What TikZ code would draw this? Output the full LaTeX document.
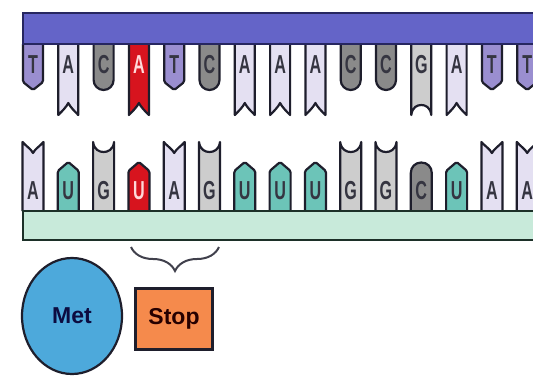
\documentclass[tikz,border=0pt]{standalone}
\usepackage{fontspec}
\setmainfont{Liberation Sans}
\usetikzlibrary{shapes.geometric,decorations.pathreplacing}

\definecolor{ink}{HTML}{1E1E2C}
\definecolor{dnabar}{HTML}{6464C8}
\definecolor{dnabarline}{HTML}{262660}
\definecolor{rnabar}{HTML}{C8EADA}
\definecolor{rnabarline}{HTML}{1C3028}
\definecolor{colT}{HTML}{9A8ED0}
\definecolor{colA}{HTML}{E4E0F2}
\definecolor{colC}{HTML}{8A8A8A}
\definecolor{colG}{HTML}{CDCDCD}
\definecolor{colU}{HTML}{6CC4B8}
\definecolor{colRed}{HTML}{D7141E}
\definecolor{metblue}{HTML}{4DA9DB}
\definecolor{stoporange}{HTML}{F58A4C}

\tikzset{
  base/.style={draw=ink, line width=2.2pt, line join=round, fill=\basecol},
  letter/.style={font=\fontsize{26}{26}\selectfont\bfseries, xscale=0.62, text=ink!90, inner sep=0pt},
  redletter/.style={letter, text=red!15!white},
  % template strand bases (hanging down from the DNA backbone)
  pics/dT/.style={code={\path[base, rounded corners=1.5pt]
      (-10,0) -- (-10,38) -- (0,46) -- (10,38) -- (10,0);}},
  pics/dC/.style={code={\path[base]
      (-10,0) -- (-10,36) .. controls (-10,41.5) and (-5.5,46) .. (0,46)
      .. controls (5.5,46) and (10,41.5) .. (10,36) -- (10,0);}},
  pics/dA/.style={code={\path[base]
      (-10,0) -- (-10,71) .. controls (-6,67) and (-2,63) .. (0,59)
      .. controls (2,63) and (6,67) .. (10,71) -- (10,0);}},
  pics/dG/.style={code={\path[base]
      (-10,0) -- (-10,71) .. controls (-9,63) and (-4,61) .. (0,61)
      .. controls (4,61) and (9,63) .. (10,71) -- (10,0);}},
  % messenger strand bases (standing up on the RNA backbone)
  pics/rA/.style={code={\path[base]
      (-10.5,0) -- (-10.5,-69) .. controls (-7,-65) and (-2,-62) .. (0,-58)
      .. controls (2,-62) and (7,-65) .. (10.5,-69) -- (10.5,0);}},
  pics/rG/.style={code={\path[base]
      (-10.5,0) -- (-10.5,-69) .. controls (-9.5,-61) and (-4,-59) .. (0,-59)
      .. controls (4,-59) and (9.5,-61) .. (10.5,-69) -- (10.5,0);}},
  pics/rU/.style={code={\path[base, rounded corners=1.5pt]
      (-10.5,0) -- (-10.5,-40) -- (0,-49) -- (10.5,-40) -- (10.5,0);}},
  pics/rC/.style={code={\path[base]
      (-10.5,0) -- (-10.5,-38) .. controls (-10.5,-44) and (-6,-48.5) .. (0,-48.5)
      .. controls (6,-48.5) and (10.5,-44) .. (10.5,-38) -- (10.5,0);}},
  labelbox/.style={draw=ink, line width=2.2pt, font=\fontsize{23}{23}\selectfont\bfseries, inner sep=0pt},
}

\begin{document}
\begin{tikzpicture}[x=1pt, y=-1pt]
  \clip (0,0) rectangle (533,381);
  \fill[white] (0,0) rectangle (533,381);

  % DNA template strand
  \foreach \b/\s/\basecol/\st [count=\i] in {T/dT/colT/letter, A/dA/colA/letter,
      C/dC/colC/letter, A/dA/colRed/redletter, T/dT/colT/letter, C/dC/colC/letter,
      A/dA/colA/letter, A/dA/colA/letter, A/dA/colA/letter, C/dC/colC/letter,
      C/dC/colC/letter, G/dG/colG/letter, A/dA/colA/letter, T/dT/colT/letter,
      T/dT/colT/letter} {
    \pic at ({33+35.3*(\i-1)},44) {\s};
    \node[\st] (t\i) at ({33+35.3*(\i-1)},65) {\b};
  }
  \path[draw=dnabarline, fill=dnabar, line width=2.4pt] (23,13) rectangle (545,44);

  % mRNA strand
  \foreach \b/\s/\basecol/\st [count=\i] in {A/rA/colA/letter, U/rU/colU/letter,
      G/rG/colG/letter, U/rU/colRed/redletter, A/rA/colA/letter, G/rG/colG/letter,
      U/rU/colU/letter, U/rU/colU/letter, U/rU/colU/letter, G/rG/colG/letter,
      G/rG/colG/letter, C/rC/colC/letter, U/rU/colU/letter, A/rA/colA/letter,
      A/rA/colA/letter} {
    \pic at ({33+35.3*(\i-1)},211) {\s};
    \node[\st] (b\i) at ({33+35.3*(\i-1)},191) {\b};
  }
  \path[draw=rnabarline, fill=rnabar, line width=2.4pt] (23,211) rectangle (545,240);

  % codon brace and labels
  \coordinate (braceL) at (131,247);
  \coordinate (braceR) at (219,247);
  \draw[ink!85, line width=2pt, decorate, decoration={brace, mirror, amplitude=24pt}]
    (braceL) -- (braceR);

  \node[labelbox, ellipse, fill=metblue, text=ink!70!blue!60!black,
        minimum width=100pt, minimum height=116pt] (met) at (72,316) {Met};
  \node[labelbox, rectangle, fill=stoporange, text=black!75!red!60!black,
        minimum width=77pt, minimum height=61pt] (stop) at (174,319) {Stop};
\end{tikzpicture}
\end{document}
